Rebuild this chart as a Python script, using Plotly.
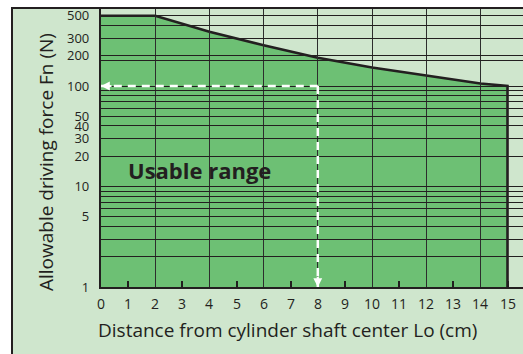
import numpy as np
import plotly.graph_objects as go

# ---- data ----
CURVE_X = [0, 2, 4, 6, 8, 10, 12, 14, 15]
CURVE_Y = [500, 500, 347, 254, 191, 153, 127, 106, 100]
FLOOR_Y = 1
X_TICKS = list(range(0, 16))
X_GRID = [0, 2, 4, 6, 8, 10, 12, 14]
Y_GRID = [1, 2, 3, 4, 5, 6, 7, 8, 9, 10, 20, 30, 40, 50, 60, 70, 80, 90, 100, 180, 200, 300, 400, 500]
Y_LABELED = [1, 5, 10, 20, 30, 40, 50, 100, 200, 300, 500]
ARROW_X = 8
ARROW_Y = 100
REGION_LABEL = "Usable range"
X_TITLE = "Distance from cylinder shaft center Lo (cm)"
Y_TITLE = "Allowable driving force Fn (N)"

# ---- layout geometry / style ----
W, H = 523, 354
ML, MR, MT, MB = 101, 0, 9, 67
PW, PH = W - ML - MR, H - MT - MB
X_RANGE = [0, PW / 27.1]
Y_RANGE = [0, PH / 100.5]
DARK = "#231f20"
GREEN = "#6dc074"
LIGHT = "#cfe6cd"
FONT = "Open Sans"
X_MINOR = [v for v in X_TICKS if v not in X_GRID]


def px_x(p):
    return (p - ML) / PW


def px_y(p):
    return (MT + PH - p) / PH


fig = go.Figure()

# usable-range fill
fig.add_trace(go.Scatter(
    x=CURVE_X + [CURVE_X[-1], CURVE_X[0]],
    y=CURVE_Y + [FLOOR_Y, FLOOR_Y],
    fill="toself", fillcolor=GREEN, mode="lines", line=dict(width=0),
    hoverinfo="skip", showlegend=False,
))
# limit curve
fig.add_trace(go.Scatter(
    x=CURVE_X + [CURVE_X[-1]],
    y=CURVE_Y + [FLOOR_Y],
    mode="lines", line=dict(color=DARK, width=2.6),
    hoverinfo="skip", showlegend=False,
))

fig.update_layout(
    width=W, height=H,
    margin=dict(l=ML, r=MR, t=MT, b=MB, pad=0),
    paper_bgcolor="white", plot_bgcolor=LIGHT,
    font=dict(family=FONT, color=DARK, size=14),
    showlegend=False,
    xaxis=dict(
        range=X_RANGE, tickmode="array", tickvals=X_GRID,
        showticklabels=False,
        ticks="inside", ticklen=PH, tickwidth=1.4, tickcolor="#2d2d2d",
        minor=dict(tickmode="array", tickvals=X_MINOR, ticks="inside",
                   ticklen=6, tickwidth=1.6, tickcolor=DARK, showgrid=False),
        showline=True, linecolor=DARK, linewidth=2.2,
        showgrid=False, zeroline=False, layer="above traces",
    ),
    yaxis=dict(
        type="log", range=Y_RANGE, tickmode="array", tickvals=Y_GRID,
        ticktext=[str(v) if v in Y_LABELED else "" for v in Y_GRID],
        ticks="inside", ticklen=PW + 5, tickwidth=1.4, tickcolor=DARK,
        showline=True, linecolor=DARK, linewidth=2.2,
        showgrid=False, zeroline=False, layer="above traces",
        tickfont=dict(size=13, color=DARK), ticklabelstandoff=7,
    ),
)

shapes = [
    # outer light frame
    dict(type="rect", xref="paper", yref="paper",
         x0=px_x(12), x1=px_x(W + 20), y0=px_y(H + 20), y1=px_y(8),
         fillcolor=LIGHT, line=dict(color=DARK, width=2), layer="below"),
    # dashed read-off lines
    dict(type="line", xref="x", yref="y",
         x0=ARROW_X, x1=X_GRID[0], y0=ARROW_Y, y1=ARROW_Y,
         line=dict(color="white", width=2.5, dash="8px,6px"), layer="above"),
    dict(type="line", xref="x", yref="y",
         x0=ARROW_X, x1=ARROW_X, y0=ARROW_Y, y1=FLOOR_Y,
         line=dict(color="white", width=2.5, dash="8px,6px"), layer="above"),
]
fig.update_layout(shapes=shapes)

annotations = [
    dict(x=X_GRID[0], y=np.log10(ARROW_Y), xref="x", yref="y", text="",
         showarrow=True, ax=12, ay=0, arrowhead=2, arrowsize=0.8,
         arrowwidth=2.2, arrowcolor="white", standoff=0),
    dict(x=ARROW_X, y=np.log10(FLOOR_Y), xref="x", yref="y", text="",
         showarrow=True, ax=0, ay=-12, arrowhead=2, arrowsize=0.8,
         arrowwidth=2.2, arrowcolor="white", standoff=0),
    dict(x=px_x(199), y=px_y(170), xref="paper", yref="paper",
         text="<b>" + REGION_LABEL + "</b>", showarrow=False,
         font=dict(family=FONT, size=22, color=DARK),
         xanchor="center", yanchor="middle"),
    dict(x=px_x(287), y=px_y(330), xref="paper", yref="paper",
         text=X_TITLE, showarrow=False,
         font=dict(family=FONT, size=19, color=DARK),
         xanchor="center", yanchor="middle"),
    dict(x=px_x(46), y=px_y(162), xref="paper", yref="paper",
         text=Y_TITLE, showarrow=False, textangle=-90,
         font=dict(family=FONT, size=19, color=DARK),
         xanchor="center", yanchor="middle"),
]
# x tick labels (every integer), placed on the x scale
for v in X_TICKS:
    annotations.append(dict(
        x=v, y=px_y(303), xref="x", yref="paper", text=str(v),
        showarrow=False, font=dict(family=FONT, size=14, color=DARK),
        xanchor="center", yanchor="middle"))
fig.update_layout(annotations=annotations)

fig.write_html("out.html")
